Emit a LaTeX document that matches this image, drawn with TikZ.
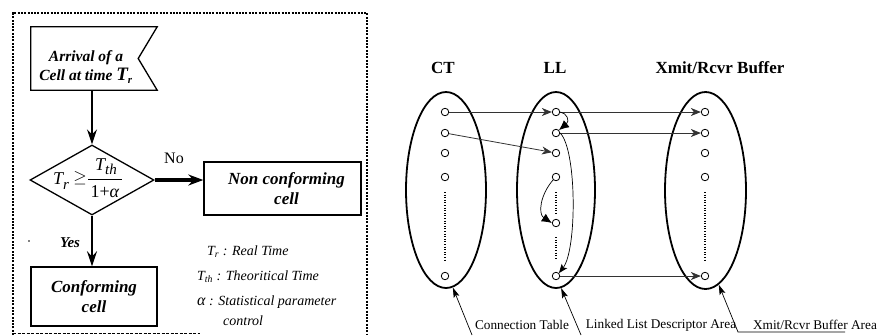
\documentclass[tikz,border=0pt]{standalone}
\usepackage{fontspec}
\setmainfont{Liberation Serif}
\usetikzlibrary{arrows.meta,shapes.geometric}
\begin{document}
\begin{tikzpicture}[x=1pt,y=-1pt,
  flowbox/.style={draw,line width=1.4pt,inner sep=0pt,align=center,font=\fontsize{17}{20.5}\selectfont\bfseries\itshape},
  farrow/.style={line width=2pt,-{Stealth[length=15pt,width=10pt,inset=5pt]}},
  pt/.style={circle,draw,line width=0.8pt,inner sep=0pt,minimum size=7.5pt},
  oval/.style={ellipse,draw,line width=1.8pt,inner sep=0pt},
  link/.style={line width=0.8pt,draw=black!80,-{Stealth[length=10pt,width=8pt,inset=3pt]}},
  curvbig/.style={line width=0.7pt,-{Latex[length=10pt,width=9pt]}},
  curvsm/.style={line width=0.7pt,-{Stealth[length=9pt,width=7pt,inset=2pt]}},
  ptr/.style={line width=0.7pt,-{Stealth[length=10pt,width=6pt,inset=2pt]}},
  head/.style={font=\fontsize{17}{19}\selectfont\bfseries},
  lbl/.style={font=\fontsize{13.3}{15}\selectfont,inner sep=0pt},
  legend/.style={font=\fontsize{14}{16}\selectfont\itshape,anchor=west,inner sep=0pt},
  mtxt/.style={inner sep=0pt,font=\fontsize{18}{20}\selectfont},
  vdots/.style={line width=1.4pt,dash pattern=on 1pt off 1.6pt}
]
\useasboundingbox (0,0) rectangle (880,335);
% frame
\draw[line width=2.2pt,dash pattern=on 2pt off 1.3pt] (13,335) -- (13,13) -- (367,13) -- (367,335);
\draw[line width=1pt,dash pattern=on 3pt off 1.5pt] (13,333) -- (200,333);
% flag
\node[minimum width=126pt,minimum height=63pt,inner sep=0pt] (arr) at (94,58.5) {};
\draw[line width=1.3pt] (arr.north west) -- (arr.north east) -- ([xshift=-19pt]arr.east) -- (arr.south east) -- (arr.south west) -- cycle;
\node[align=center,inner sep=0pt,font=\fontsize{15.5}{19}\selectfont\bfseries\itshape] (arrtxt) at (86,67) {Arrival of a\\Cell at time {\fontsize{19}{19}\selectfont T}\textsubscript{r}};
% decision
\node[diamond,draw,line width=1.3pt,inner sep=0pt,minimum width=124pt,minimum height=70pt] (dia) at (92,180) {};
\node[mtxt,anchor=west] (trl) at (53,181) {\itshape T\raisebox{-5pt}{\fontsize{15}{15}\selectfont r}};
\node[mtxt] (geq) at (80,178) {$\geq$};
\node[mtxt] (fnum) at (106,167) {\itshape T\raisebox{-4pt}{\fontsize{15}{15}\selectfont th}};
\node[mtxt] (fden) at (105,192) {1+\textit{α}};
\draw[line width=0.8pt] (88,179) -- (122,179);
\node[flowbox,minimum width=157pt,minimum height=53pt] (ncf) at (282.5,188.5) {\hspace*{8pt}Non conforming\\\hspace*{8pt}cell};
\node[flowbox,minimum width=126pt,minimum height=59pt] (cf) at (94,296.5) {Conforming\\cell};
\draw[farrow] (arr.south -| dia.north) -- (dia.north);
\draw[line width=3.2pt,-{Stealth[length=15pt,width=11pt,inset=5pt]}] (dia.east) -- (dia.east -| ncf.west);
\draw[farrow] (dia.south) -- (dia.south |- cf.north);
\node[font=\fontsize{16}{18}\selectfont] (no) at (174,158) {No};
\node[font=\fontsize{15}{18}\selectfont\bfseries\itshape] (yes) at (70,243) {Yes};
\fill (29,241) circle (0.8pt);
% legend
\node[legend] (lg1) at (207,252) {T\textsubscript{r} : Real Time};
\node[legend] (lg2) at (197,277) {T\textsubscript{th} : Theoritical Time};
\node[legend] (lg3) at (197,302) {{\fontsize{16}{16}\selectfont α} : Statistical parameter};
\node[legend] (lg4) at (223,321) {control};
% right part headers
\node[head] (hct) at (443,68) {CT};
\node[head] (hll) at (555,68) {LL};
\node[head] (hbf) at (720,68) {Xmit/Rcvr Buffer};
% ellipses
\node[oval,minimum width=80pt,minimum height=196pt] (ect) at (446,190) {};
\node[oval,minimum width=78pt,minimum height=196pt] (ell) at (556,190) {};
\node[oval,minimum width=81pt,minimum height=197pt] (ebf) at (705.5,190.5) {};
% circles
\foreach \i/\y in {1/112,2/133,3/153,4/177,5/276} {\node[pt] (c\i) at (445,\y) {};}
\foreach \i/\y in {1/112,2/133,3/153,4/177,5/223,6/276} {\node[pt] (l\i) at (556,\y) {};}
\foreach \i/\y in {1/112,2/133,3/153,4/177,5/276} {\node[pt] (b\i) at (705,\y) {};}
% dots
\draw[vdots] (445,192) -- (445,261);
\draw[vdots] (556,192) -- (556,214);
\draw[vdots] (556,237) -- (556,258);
\draw[vdots] (705,192) -- (705,261);
% links
\draw[link] (c1) -- (l1);
\draw[link] (c2) -- (l3);
\draw[link] (l1) -- (b1);
\draw[link] (l2) -- (b2);
\draw[link] (l6) -- (b5);
\draw[curvbig] (l1.east) .. controls (567,113) and (570,121) .. (l2.north east);
\draw[curvsm] (l2.east) .. controls (577,150) and (577,250) .. (l6.north east);
\draw[curvbig] (l4.south west) .. controls (540,195) and (538,214) .. (l5.west);
% bottom labels
\node[lbl] (lct) at (522,325) {Connection Table};
\node[lbl] (lll) at (661,325) {Linked List Descriptor Area};
\node[lbl] (lbf) at (815,325) {Xmit/Rcvr Buffer Area};
\coordinate (pct) at (472,335);
\coordinate (pll) at (581,335);
\coordinate (pbf) at (738,332);
\coordinate (ubf) at (845,332);
\draw[ptr] (pct) -- (ect.-86);
\draw[ptr] (pll) -- (ell.-87);
\draw[ptr] (ubf) -- (pbf) -- (ebf.-82);
\end{tikzpicture}
\end{document}
